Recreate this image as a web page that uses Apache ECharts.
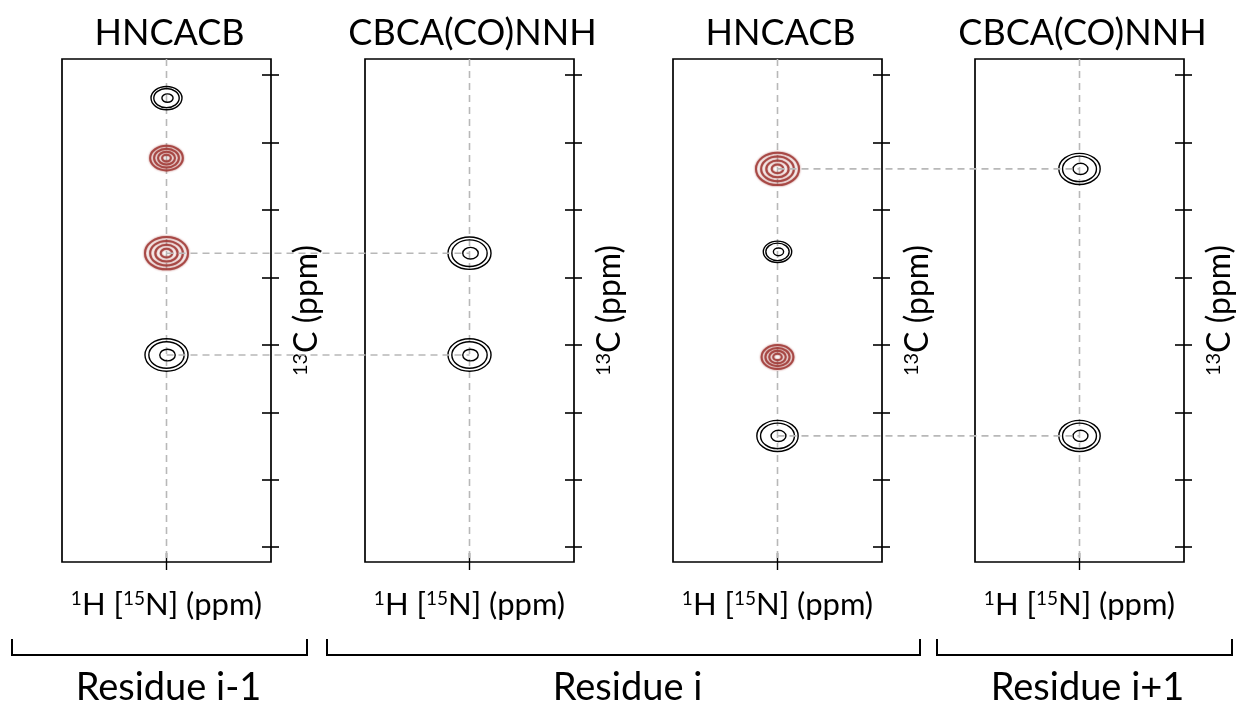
<!DOCTYPE html>
<html>
<head>
<meta charset="utf-8">
<script src="https://cdn.jsdelivr.net/npm/echarts@6/dist/echarts.min.js"></script>
<style>
  html, body { margin: 0; padding: 0; background: #fff; }
  #chart { width: 1244px; height: 709px; }
</style>
</head>
<body>
<div id="chart"></div>
<script>
// Strip experiments, left to right
const experiments = ['HNCACB', 'CBCA(CO)NNH', 'HNCACB', 'CBCA(CO)NNH'];
// 13C shifts (ppm) of the peaks found in each strip
const peakShifts = [
  [13.4, 22.3, 36.4, 51.5],
  [36.4, 51.5],
  [23.9, 36.2, 51.8, 63.5],
  [23.9, 63.5]
];
// Signed peak intensities (positive = black contours, negative = red contours)
const peakIntensities = [
  [0.72, -0.76, -1.0, 1.0],
  [1.0, 1.0],
  [-1.0, 0.66, -0.74, 0.96],
  [0.96, 0.96]
];
// Sequential walk: strip A peak -> strip B peak at the same 13C shift
const walkLinks = [
  { from: 0, to: 1, shift: 36.4 },
  { from: 0, to: 1, shift: 51.5 },
  { from: 2, to: 3, shift: 23.9 },
  { from: 2, to: 3, shift: 63.5 }
];
// 13C tick values and the visible window
const carbonTicks = [10, 20, 30, 40, 50, 60, 70, 80];
const carbonRange = [7.6, 82.2];
// Residue groupings under the strips
const residueLabels = ['Residue i-1', 'Residue i', 'Residue i+1'];

const FONT = 'Lato, "Liberation Sans", sans-serif';
const GRID_LEFTS = [62, 365, 673, 975];
const GRID_W = 209, GRID_TOP = 59, GRID_H = 503;
const DASH = { color: '#b8b8b8', width: 1.6, dash: [7, 5] };
const RED = '#a23d39';

const chart = echarts.init(document.getElementById('chart'), null, { renderer: 'canvas' });

function supRich(size) {
  return {
    n: { fontFamily: FONT, fontSize: size, color: '#000' },
    s: { fontFamily: FONT, fontSize: Math.round(size * 0.62), color: '#000', verticalAlign: 'top', lineHeight: Math.round(size * 0.55) }
  };
}

const grids = [], xAxes = [], yAxes = [], series = [];
experiments.forEach((exp, i) => {
  grids.push({
    left: GRID_LEFTS[i], top: GRID_TOP, width: GRID_W, height: GRID_H,
    show: true, borderColor: '#000', borderWidth: 1.7, backgroundColor: 'transparent'
  });
  // bottom axis, outward half of the centre tick plus the name
  xAxes.push({
    gridIndex: i, type: 'value', min: -1, max: 1, position: 'bottom',
    axisLine: { show: false, onZero: false }, splitLine: { show: false },
    axisTick: { show: true, inside: false, length: 8, customValues: [0], lineStyle: { color: '#000', width: 1.4 } },
    axisLabel: { show: false },
    name: '{s|1}{n|H [}{s|15}{n|N] (ppm)}', nameLocation: 'middle', nameGap: 27,
    nameTextStyle: { fontFamily: FONT, fontSize: 31, color: '#000', rich: supRich(31) }
  });
  // inward half of the centre tick
  xAxes.push({
    gridIndex: i, type: 'value', min: -1, max: 1, position: 'bottom',
    axisLine: { show: false, onZero: false }, splitLine: { show: false },
    axisTick: { show: true, inside: true, length: 9, customValues: [0], lineStyle: { color: '#000', width: 1.4 } },
    axisLabel: { show: false }
  });
  yAxes.push({
    gridIndex: i, type: 'value', inverse: true, min: carbonRange[0], max: carbonRange[1], position: 'right',
    axisLine: { show: false, onZero: false }, splitLine: { show: false },
    axisTick: { show: true, inside: false, length: 8, customValues: carbonTicks, lineStyle: { color: '#000', width: 1.6 } },
    axisLabel: { show: false },
    name: '{s|13}{n|C (ppm)}', nameLocation: 'middle', nameRotate: 90, nameGap: 20,
    nameTextStyle: { fontFamily: FONT, fontSize: 32, color: '#000', rich: supRich(32), padding: [0, 0, 0, 0], align: 'center' }
  });
  yAxes.push({
    gridIndex: i, type: 'value', inverse: true, min: carbonRange[0], max: carbonRange[1], position: 'right',
    axisLine: { show: false, onZero: false }, splitLine: { show: false },
    axisTick: { show: true, inside: true, length: 9, customValues: carbonTicks, lineStyle: { color: '#000', width: 1.6 } },
    axisLabel: { show: false }
  });

  // amide position guide running the length of the strip
  series.push({
    type: 'line', xAxisIndex: 2 * i, yAxisIndex: 2 * i, silent: true, symbol: 'none',
    data: [[0, carbonRange[0]], [0, carbonRange[1]]],
    lineStyle: { color: DASH.color, width: DASH.width, type: DASH.dash },
    z: 1
  });

  // contour peaks
  series.push({
    type: 'custom', xAxisIndex: 2 * i, yAxisIndex: 2 * i, silent: true, z: 3,
    data: peakShifts[i].map((c, k) => [0, c, peakIntensities[i][k]]),
    renderItem(params, api) {
      const c = api.coord([api.value(0), api.value(1)]);
      const amp = api.value(2);
      const base = api.size([0.206, 2.4]);
      const rx = base[0] * Math.abs(amp), ry = base[1] * Math.abs(amp);
      const positive = amp > 0;
      const levels = positive ? [1, 0.82, 0.36] : [1, 0.76, 0.52, 0.27];
      return {
        type: 'group',
        children: levels.map((f) => ({
          type: 'ellipse',
          shape: { cx: c[0] + (positive && f < 0.5 ? 1 : 0), cy: c[1], rx: rx * f, ry: ry * f },
          style: positive
            ? { fill: 'none', stroke: '#000', lineWidth: 1.4 }
            : { fill: 'none', stroke: RED, lineWidth: 2, opacity: 0.85, shadowBlur: 2, shadowColor: RED }
        }))
      };
    }
  });
});

chart.setOption({
  animation: false,
  backgroundColor: '#fff',
  title: experiments.map((t, i) => ({
    text: t, left: GRID_LEFTS[i] + GRID_W / 2 - 2, top: 10, textAlign: 'center',
    textStyle: { fontFamily: FONT, fontSize: 36, fontWeight: 'normal', color: '#000' }
  })),
  grid: grids, xAxis: xAxes, yAxis: yAxes, series
});

// connectors between strips and the residue brackets
const graphics = [];
walkLinks.forEach((l) => {
  const a = chart.convertToPixel({ gridIndex: l.from }, [0, l.shift]);
  const b = chart.convertToPixel({ gridIndex: l.to }, [0, l.shift]);
  graphics.push({
    type: 'line', z: 10, silent: true,
    shape: { x1: a[0], y1: a[1], x2: b[0], y2: b[1] },
    style: { stroke: DASH.color, lineWidth: DASH.width, lineDash: DASH.dash }
  });
});

const brackets = [[12, 307], [327, 920], [937, 1232]];
const labelShift = [9, 4, 3];
brackets.forEach((br, i) => {
  graphics.push({
    type: 'polyline', silent: true,
    shape: { points: [[br[0], 639], [br[0], 655], [br[1], 655], [br[1], 639]] },
    style: { stroke: '#000', lineWidth: 2, fill: 'none' }
  });
  graphics.push({
    type: 'text', silent: true,
    x: (br[0] + br[1]) / 2 + labelShift[i], y: 688,
    style: { text: residueLabels[i], font: '38px ' + FONT, fill: '#000', textAlign: 'center', textVerticalAlign: 'middle' }
  });
});

chart.setOption({ graphic: graphics });
</script>
</body>
</html>
